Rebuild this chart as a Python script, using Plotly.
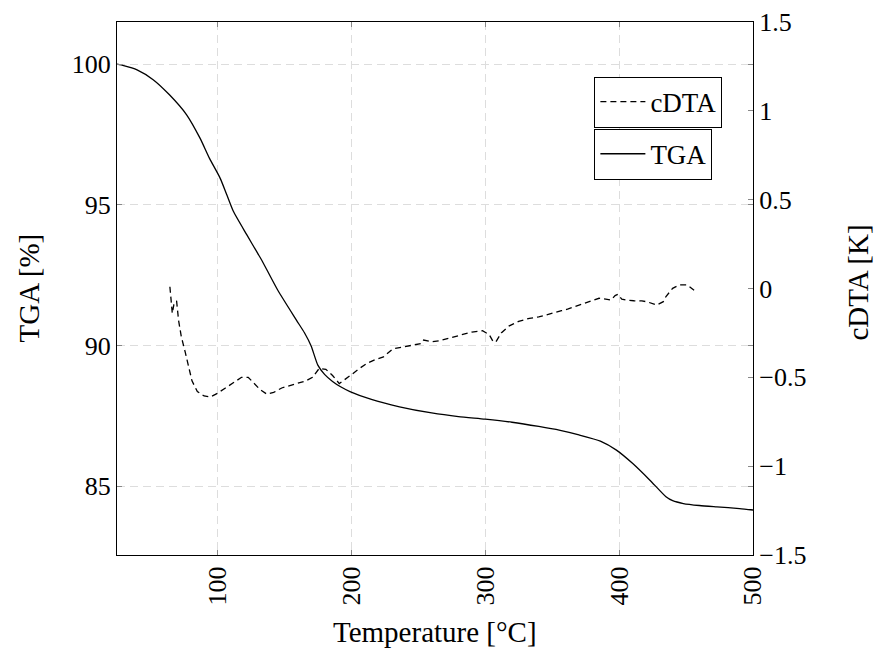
import plotly.graph_objects as go

# ---- data ----
tga_temp = [25, 30, 40, 52, 64, 77, 87, 94, 102, 107, 112, 122, 130, 133, 145, 159, 165, 170,
            175, 180, 186, 192, 199, 215, 236, 260, 280, 300, 320, 340, 356, 370, 386, 398, 410,
            423, 435, 440, 448, 460, 473, 490, 500]
tga_val = [100.0, 99.95, 99.8, 99.45, 98.92, 98.2, 97.37, 96.66, 95.95, 95.36, 94.76, 93.93,
           93.28, 93.04, 91.97, 90.9, 90.45, 89.98, 89.3, 88.97, 88.72, 88.53, 88.36, 88.08,
           87.82, 87.6, 87.47, 87.38, 87.27, 87.12, 86.98, 86.82, 86.6, 86.28, 85.81, 85.21,
           84.62, 84.48, 84.38, 84.31, 84.26, 84.2, 84.15]

cdta_temp = [64.5, 65.5, 66.3, 67.5, 69.5, 71, 73, 76, 78, 81, 85, 90, 95, 100, 106, 112, 118,
             123, 127, 132, 137, 142, 148, 155, 160, 166, 171, 176, 181, 186, 191, 196, 201,
             206, 212, 218, 224, 231, 238, 244, 252, 254, 260, 266, 273, 279, 285, 290, 298,
             303, 306, 308, 312, 318, 325, 333, 340, 346, 352, 357, 362, 368, 374, 379, 385,
             390, 394, 397, 399, 402, 406, 411, 417, 421, 425, 428, 433, 435, 440, 445, 451, 456]
cdta_val = [0.01, -0.10, -0.14, -0.09, -0.07, -0.18, -0.27, -0.36, -0.43, -0.52, -0.58, -0.605,
            -0.61, -0.59, -0.56, -0.53, -0.50, -0.50, -0.53, -0.57, -0.595, -0.585, -0.56,
            -0.545, -0.535, -0.52, -0.50, -0.45, -0.455, -0.49, -0.535, -0.51, -0.48, -0.45,
            -0.42, -0.40, -0.385, -0.34, -0.33, -0.324, -0.31, -0.29, -0.30, -0.294, -0.28,
            -0.268, -0.255, -0.245, -0.238, -0.26, -0.30, -0.30, -0.25, -0.21, -0.185, -0.168,
            -0.16, -0.149, -0.135, -0.125, -0.115, -0.099, -0.085, -0.074, -0.055, -0.06,
            -0.065, -0.04, -0.033, -0.06, -0.066, -0.069, -0.07, -0.075, -0.083, -0.093,
            -0.074, -0.045, 0.001, 0.02, 0.02, -0.01]

x_ticks = [100, 200, 300, 400, 500]
y_ticks = [85, 90, 95, 100]
y2_ticks = [-1.5, -1, -0.5, 0, 0.5, 1, 1.5]
y2_labels = ["\u22121.5", "\u22121", "\u22120.5", "0", "0.5", "1", "1.5"]

x_title = "Temperature [°C]"
y_title = "TGA [%]"
y2_title = "cDTA [K]"

FONT = "Liberation Serif"
FS = 26
TFS = 29
LFS = 27

fig = go.Figure()
fig.add_trace(go.Scatter(x=cdta_temp, y=cdta_val, name="cDTA", yaxis="y2", mode="lines",
                         line=dict(color="black", width=1.3, dash="6px,4px"),
                         legend="legend"))
fig.add_trace(go.Scatter(x=tga_temp, y=tga_val, name="TGA", mode="lines",
                         line=dict(color="black", width=1.3, shape="spline", smoothing=0.6),
                         legend="legend2"))

grid = dict(showgrid=True, gridcolor="#dddddd", gridwidth=1, griddash="8px,5px")
tfont = dict(family=FONT, size=TFS, color="black")

fig.update_layout(
    width=874, height=657,
    margin=dict(l=117, r=121, t=22, b=102),
    paper_bgcolor="white", plot_bgcolor="white",
    font=dict(family=FONT, size=FS, color="black"),
    xaxis=dict(range=[25, 500], tickvals=x_ticks, tickangle=-90, automargin=False,
               showline=True, linecolor="black", linewidth=1.2, mirror="ticks",
               ticks="inside", ticklen=5, tickcolor="#888888",
               zeroline=False, **grid),
    yaxis=dict(range=[82.55, 101.5], tickvals=y_ticks, automargin=False,
               showline=True, linecolor="black", linewidth=1.2, mirror="ticks",
               ticks="inside", ticklen=5, tickcolor="#888888",
               zeroline=False, **grid),
    yaxis2=dict(range=[-1.5, 1.5], tickvals=y2_ticks, ticktext=y2_labels, automargin=False,
                overlaying="y", side="right", showgrid=False, zeroline=False,
                showline=True, linecolor="black", linewidth=1.2,
                ticks="inside", ticklen=5, tickcolor="#888888"),
    legend=dict(x=0.7506, y=0.8976, xanchor="left", yanchor="top", itemwidth=45,
                bordercolor="black", borderwidth=1, bgcolor="white",
                font=dict(family=FONT, size=LFS)),
    legend2=dict(x=0.7506, y=0.7998, xanchor="left", yanchor="top", itemwidth=45,
                 bordercolor="black", borderwidth=1, bgcolor="white",
                 font=dict(family=FONT, size=LFS)),
    showlegend=True,
    annotations=[
        dict(text=x_title, xref="paper", yref="paper", x=0.5, y=0, xanchor="center",
             yanchor="middle", yshift=-77, showarrow=False, font=tfont),
        dict(text=y_title, xref="paper", yref="paper", x=0, y=0.5, xanchor="center",
             yanchor="middle", xshift=-89, textangle=-90, showarrow=False, font=tfont),
        dict(text=y2_title, xref="paper", yref="paper", x=1, y=0.5, xanchor="center",
             yanchor="middle", xshift=104, yshift=6, textangle=-90, showarrow=False,
             font=tfont),
    ],
)

fig.write_html("out.html", config={"displayModeBar": False},
               post_script="document.body.style.margin='0px';")
